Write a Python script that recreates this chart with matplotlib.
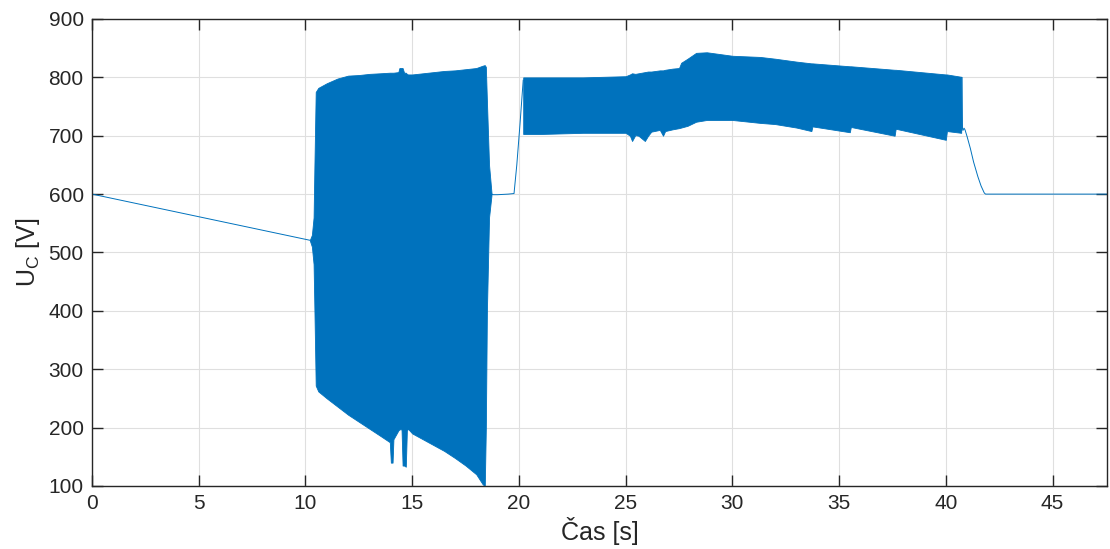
import numpy as np
import matplotlib
matplotlib.use('Agg')
import matplotlib.pyplot as plt

# Single trace parts (time [s], voltage [V])
t_start = [0.0, 10.2]
u_start = [600, 521]

t_mid = [18.72, 18.8, 19.0, 19.5, 19.77, 19.9, 20.05, 20.2]
u_mid = [600, 599, 599, 600, 601, 650, 720, 795]

t_end = [40.72, 40.76, 40.78, 40.8, 40.85, 40.9, 41.0, 41.15, 41.3, 41.5, 41.65, 41.8, 41.86, 47.6]
u_end = [708, 800, 712, 709, 713, 710, 698, 678, 655, 630, 614, 602, 600, 600]

# Envelope of the fast oscillation, first burst
t_burst1 = [10.2, 10.3, 10.38, 10.42, 10.48, 10.6, 11.0, 11.5, 12.0, 12.5, 13.0, 13.5,
            13.95, 14.0, 14.08, 14.12, 14.35, 14.4, 14.5, 14.55, 14.62, 14.7, 14.75,
            14.8, 15.0, 15.5, 16.0, 16.5, 17.0, 17.5, 18.0, 18.3, 18.4, 18.45, 18.5,
            18.6, 18.72]
hi_burst1 = [521, 530, 560, 650, 775, 782, 790, 798, 803, 804, 806, 807,
             808, 808, 808, 808, 809, 816, 816, 816, 808, 808, 806,
             805, 805, 807, 809, 811, 812, 814, 816, 820, 821, 818, 760,
             650, 600]
lo_burst1 = [521, 510, 480, 400, 272, 262, 250, 236, 222, 210, 198, 186,
             175, 140, 140, 180, 195, 197, 197, 135, 135, 133, 195,
             198, 190, 180, 170, 160, 148, 135, 120, 103, 100, 200, 400,
             560, 600]

# Envelope of the fast oscillation, second burst
t_burst2 = [20.2, 21.0, 22.0, 23.0, 24.0, 25.0, 25.2, 25.3, 25.45, 25.6, 25.9, 26.05,
            26.2, 26.6, 26.75, 26.85, 27.2, 27.5, 27.6, 27.9, 28.3, 28.8, 29.0, 30.0,
            31.3, 32.0, 33.0, 33.7, 33.75, 35.5, 35.55, 37.6, 37.65, 40.0, 40.05,
            40.72]
hi_burst2 = [800, 800, 800, 800, 801, 802, 805, 807, 806, 807, 809, 810,
             810, 812, 812, 813, 815, 816, 825, 832, 842, 843, 842, 837,
             835, 832, 827, 824, 824, 819, 819, 813, 813, 805, 805,
             801]
lo_burst2 = [703, 703, 704, 705, 705, 705, 700, 691, 701, 700, 691, 700,
             707, 710, 700, 708, 711, 713, 714, 717, 724, 727, 727, 727,
             722, 720, 714, 708, 716, 706, 715, 700, 712, 693, 708,
             705]

blue = '#0072BD'
dark = '#262626'

plt.rcParams['font.family'] = ['Liberation Sans', 'DejaVu Sans']

fig = plt.figure(figsize=(11.1, 5.49), dpi=100)
ax = fig.add_axes([0.0829, 0.1148, 0.9144, 0.8506])

ax.plot(t_start, u_start, color=blue, lw=0.7)
ax.plot(t_mid, u_mid, color=blue, lw=0.7)
ax.plot(t_end, u_end, color=blue, lw=0.7)
ax.fill_between(t_burst1, lo_burst1, hi_burst1, color=blue, lw=0.6)
ax.fill_between(t_burst2, lo_burst2, hi_burst2, color=blue, lw=0.6)

ax.set_xlim(0, 47.55)
ax.set_ylim(100, 900)
ax.set_xticks(np.arange(0, 46, 5))
ax.set_yticks(np.arange(100, 901, 100))
ax.grid(True, color='#dfdfdf', lw=0.8)
ax.set_axisbelow(True)

ax.tick_params(direction='in', length=8, width=1, colors=dark, labelsize=15,
               top=True, right=True, pad=6)
for s in ax.spines.values():
    s.set_color(dark)
    s.set_linewidth(1)

ax.set_xlabel('Čas [s]', fontsize=18, color=dark, labelpad=3)
ax.set_ylabel('U$_\\mathregular{C}$ [V]', fontsize=18, color=dark, labelpad=5)

fig.savefig('out.png', dpi=100)
